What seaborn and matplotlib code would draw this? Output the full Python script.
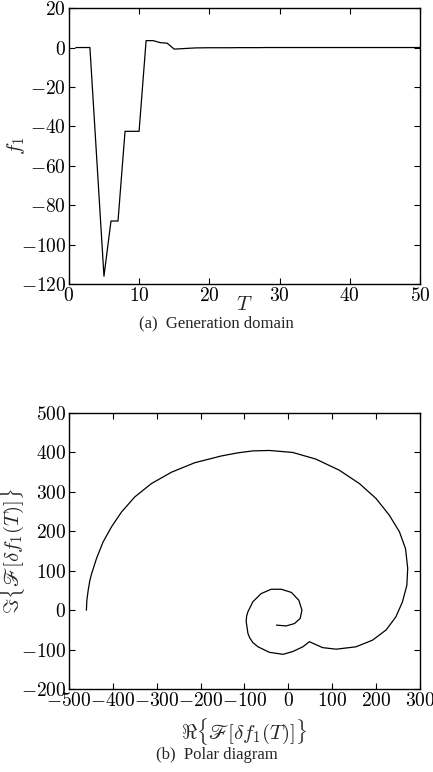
import matplotlib
matplotlib.use('Agg')
import matplotlib.pyplot as plt
import matplotlib.ticker as mticker
import seaborn as sns
import pandas as pd

# (a) generation domain, f1 against T
gen_T = list(range(1, 51))
gen_f1 = [0, 0, 0, -58, -116, -88, -88, -42.5, -42.5, -42.5,
          3.5, 3.5, 2.5, 2.2, -0.8, -0.6, -0.4, -0.2, -0.15, -0.1,
          -0.1, -0.1, -0.1, -0.05, -0.05, -0.05, -0.05, 0, 0, 0,
          0, 0, 0, 0, 0, 0, 0, 0, 0, 0,
          0, 0, 0, 0, 0, 0, 0, 0, 0, 0]

# (b) polar diagram
polar_re = [-460, -459, -456, -452, -448, -437, -422, -403, -380, -350,
            -312, -266, -213, -153, -115, -80, -43, 10, 63, 116,
            162, 200, 230, 253, 267, 272, 270, 260, 245, 223,
            192, 154, 109, 78, 48, 33, 10, -12, -43, -69,
            -81, -88, -92, -96, -95, -92, -81, -62, -39, -16,
            7, 24, 31, 27, 14, -5, -27]
polar_im = [0, 25, 50, 76, 93, 131, 173, 211, 249, 287,
            321, 350, 374, 391, 399, 404, 405, 400, 383, 355,
            321, 283, 241, 199, 156, 106, 63, 21, -17, -50,
            -76, -93, -99, -95, -80, -93, -105, -112, -107, -93,
            -82, -70, -59, -29, -15, -4, 21, 42, 53, 53,
            45, 25, 0, -21, -34, -40, -38]

sns.set_style('ticks')
plt.rcParams['font.family'] = ['Liberation Serif', 'DejaVu Serif']
plt.rcParams['mathtext.fontset'] = 'cm'
plt.rcParams['xtick.direction'] = 'in'
plt.rcParams['ytick.direction'] = 'in'
plt.rcParams['xtick.top'] = True
plt.rcParams['ytick.right'] = True

TICK_FS = 14
LABEL_FS = 15


def math_fmt(v, pos):
    return '$%g$' % v


def style_axes(ax):
    for s in ax.spines.values():
        s.set_linewidth(1.0)
        s.set_color('black')
    ax.tick_params(length=4, width=0.8, labelsize=TICK_FS, colors='black', pad=2)
    ax.xaxis.set_major_formatter(mticker.FuncFormatter(math_fmt))
    ax.yaxis.set_major_formatter(mticker.FuncFormatter(math_fmt))


fig = plt.figure(figsize=(4.33, 7.72), dpi=100)

ax1 = fig.add_axes([0.159, 0.632, 0.811, 0.3575])
gen = pd.DataFrame({'T': gen_T, 'f1': gen_f1})
sns.lineplot(data=gen, x='T', y='f1', ax=ax1, color='black', linewidth=0.9)
ax1.set_xlim(0, 50)
ax1.set_ylim(-120, 20)
ax1.set_xticks(range(0, 51, 10))
ax1.set_yticks(range(-120, 21, 20))
style_axes(ax1)
ax1.set_xlabel('$T$', fontsize=LABEL_FS)
ax1.set_ylabel('$f_1$', fontsize=LABEL_FS)
ax1.xaxis.set_label_coords(0.5, -0.043)
ax1.yaxis.set_label_coords(-0.12, 0.5)
fig.text(0.5, 1 - 323 / 772, '(a)  Generation domain', ha='center', va='center', fontsize=12)

ax2 = fig.add_axes([0.159, 0.1075, 0.811, 0.3575])
polar = pd.DataFrame({'re': polar_re, 'im': polar_im})
sns.lineplot(data=polar, x='re', y='im', ax=ax2, color='black', linewidth=0.9,
             sort=False, estimator=None)
ax2.set_xlim(-500, 300)
ax2.set_ylim(-200, 500)
ax2.set_xticks(range(-500, 301, 100))
ax2.set_yticks(range(-200, 501, 100))
style_axes(ax2)
ax2.set_xlabel(r'$\Re\{\mathscr{F}[\delta f_1(T)]\}$', fontsize=LABEL_FS)
ax2.set_ylabel(r'$\Im\{\mathscr{F}[\delta f_1(T)]\}$', fontsize=LABEL_FS)
ax2.xaxis.set_label_coords(0.5, -0.101)
ax2.yaxis.set_label_coords(-0.12, 0.5)
fig.text(0.5, 1 - 755 / 772, '(b)  Polar diagram', ha='center', va='center', fontsize=12)

fig.savefig('out.png', dpi=100)
